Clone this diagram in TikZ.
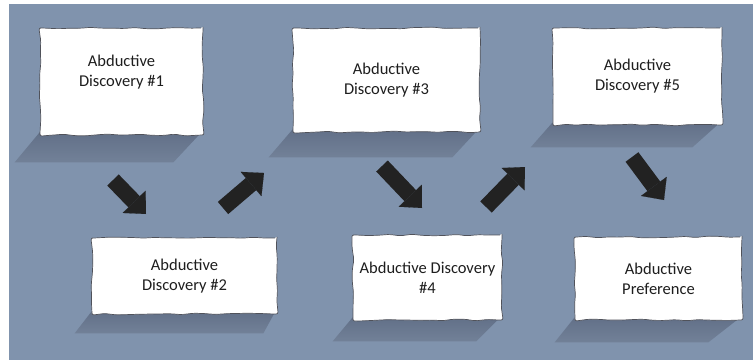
\documentclass[tikz,border=0pt]{standalone}
\usepackage{fontspec}
\setmainfont{Carlito}
\usetikzlibrary{arrows.meta,decorations.pathmorphing,calc}
\definecolor{bgblue}{RGB}{128,147,173}
\definecolor{shadowtop}{RGB}{98,112,136}
\definecolor{shadowbot}{RGB}{114,129,152}
\definecolor{arrowc}{RGB}{34,34,34}
\definecolor{txtc}{RGB}{30,30,30}
\definecolor{edgec}{RGB}{80,82,90}
\pgfdeclarelayer{backlayer}
\pgfdeclarelayer{shadelayer}
\pgfsetlayers{backlayer,shadelayer,main}
\begin{document}
\begin{tikzpicture}[x=1pt,y=-1pt,
  card/.style={draw=edgec, line width=0.7pt, fill=white, inner sep=0pt, rounded corners=2pt,
    decorate, decoration={random steps, segment length=11pt, amplitude=0.9pt}},
  cardtext/.style={font=\fontsize{16.5}{20}\selectfont, text=txtc, align=center, inner sep=0pt},
  blockarrow/.style={draw=arrowc, line width=16pt,
    -{Triangle[width=32pt,length=17pt,line width=0.1pt]}},
  cardshade/.style={top color=shadowtop, bottom color=shadowbot, draw=none}
]
\pgfmathsetseed{7}
\useasboundingbox (0,0) rectangle (753,360);
\begin{pgfonlayer}{backlayer}
  \fill[white] (0,0) rectangle (753,360);
  \fill[bgblue] (9,4) rectangle (753,360);
\end{pgfonlayer}

% cards
\node[card, minimum width=163pt, minimum height=107pt] (b1) at (121.5,81.5) {};
\node[card, minimum width=185pt, minimum height=76pt]  (b2) at (184.5,276) {};
\node[card, minimum width=187pt, minimum height=104pt] (b3) at (386.5,80) {};
\node[card, minimum width=149pt, minimum height=85pt]  (b4) at (427.5,277.5) {};
\node[card, minimum width=169pt, minimum height=97pt]  (b5) at (637.5,76.5) {};
\node[card, minimum width=167pt, minimum height=83pt]  (b6) at (658.5,278.5) {};

% texts
\node[cardtext] (t1) at ([yshift=9.5pt]b1.center) {Abductive\\Discovery \#1};
\node[cardtext] (t2) at (b2.center) {Abductive\\Discovery \#2};
\node[cardtext] (t3) at (b3.center) {Abductive\\Discovery \#3};
\node[cardtext] (t4) at (b4.center) {Abductive Discovery\\\#4};
\node[cardtext] (t5) at (b5.center) {Abductive\\Discovery \#5};
\node[cardtext] (t6) at (b6.center) {Abductive\\Preference};

% shadows
\begin{pgfonlayer}{shadelayer}
\foreach \b/\d/\l/\r in {b1/27/25/30, b2/19/17/14, b3/25/24/28, b4/21/20/26, b5/22/22/30, b6/22/20/34}{
  \shade[cardshade] ($(\b.south west)+(0,-3)$) -- ($(\b.south east)+(-2,-3)$)
     -- ($(\b.south east)+(-\r,\d)$) -- ($(\b.south west)+(-\l,\d)$) -- cycle;
}
\end{pgfonlayer}

% arrows
\coordinate (a1s) at (113,180); \coordinate (a1e) at (146,214);
\coordinate (a2s) at (223,208); \coordinate (a2e) at (264,173);
\coordinate (a3s) at (382,166); \coordinate (a3e) at (422,208);
\coordinate (a4s) at (486,207); \coordinate (a4e) at (525,167);
\coordinate (a5s) at (632,157); \coordinate (a5e) at (664,200);
\draw[blockarrow] (a1s) -- (a1e);
\draw[blockarrow] (a2s) -- (a2e);
\draw[blockarrow] (a3s) -- (a3e);
\draw[blockarrow] (a4s) -- (a4e);
\draw[blockarrow] (a5s) -- (a5e);
\end{tikzpicture}
\end{document}
